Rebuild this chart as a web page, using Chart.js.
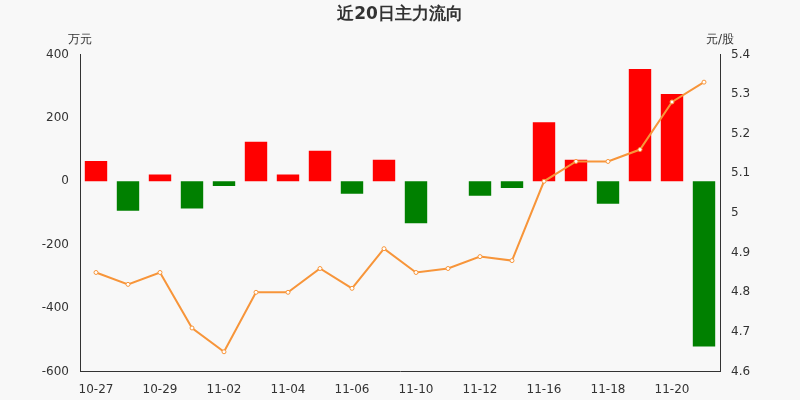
<!DOCTYPE html>
<html><head><meta charset="utf-8">
<script src="https://cdn.jsdelivr.net/npm/chart.js@4"></script>
<style>html,body{margin:0;background:#f8f8f8}</style>
</head><body><canvas id="c" width="800" height="400"></canvas>
<script>
const categories=['10-27','10-28','10-29','10-30','11-02','11-03','11-04','11-05','11-06','11-09','11-10','11-11','11-12','11-13','11-16','11-17','11-18','11-19','11-20','11-23'];
const flow=[64,-93,21,-86,-15,125,21,96,-39,68,-132,0,-46,-21,186,68,-71,354,275,-521];
const price=[4.85,4.82,4.85,4.71,4.65,4.80,4.80,4.86,4.81,4.91,4.85,4.86,4.89,4.88,5.08,5.13,5.13,5.16,5.28,5.33];
const font={family:'DejaVu Sans',size:12};
const unitPlugin={id:'u',afterDraw(ch){const c=ch.ctx;c.save();c.font='12px DejaVu Sans';c.fillStyle='#333';c.textAlign='center';c.fillText('万元',80,43);c.fillText('元/股',720,43);c.restore();}};
new Chart(document.getElementById('c'),{
data:{labels:categories,datasets:[
{type:'line',data:price,yAxisID:'y1',borderColor:'#f7953a',backgroundColor:'#fff',borderWidth:2,pointRadius:2,pointBorderWidth:1,pointBackgroundColor:'#fff',tension:0,order:0},
{type:'bar',data:flow,yAxisID:'y',backgroundColor:flow.map(v=>v>=0?'#ff0000':'#008000'),barPercentage:0.7,categoryPercentage:1,order:1}]},
options:{responsive:false,animation:false,devicePixelRatio:1,
plugins:{legend:{display:false},tooltip:{enabled:false},title:{display:true,text:'近20日主力流向',color:'#333',font:{family:'DejaVu Sans',size:17,weight:'bold'},padding:{top:4,bottom:30}}},
scales:{
x:{grid:{display:false,drawTicks:true},border:{color:'#333'},ticks:{color:'#333',font,autoSkip:false,maxRotation:0,callback:(v,i)=>i%2===0?categories[i]:''}},
y:{position:'left',min:-600,max:400,afterFit(s){s.width=80},ticks:{stepSize:200,color:'#333',font},grid:{display:false},border:{color:'#333'}},
y1:{position:'right',min:4.6,max:5.4,afterFit(s){s.width=80},ticks:{stepSize:0.1,color:'#333',font,callback:v=>Math.round(v*10)/10},grid:{display:false},border:{color:'#333'}}
}},plugins:[unitPlugin]});
</script>
</body></html>
